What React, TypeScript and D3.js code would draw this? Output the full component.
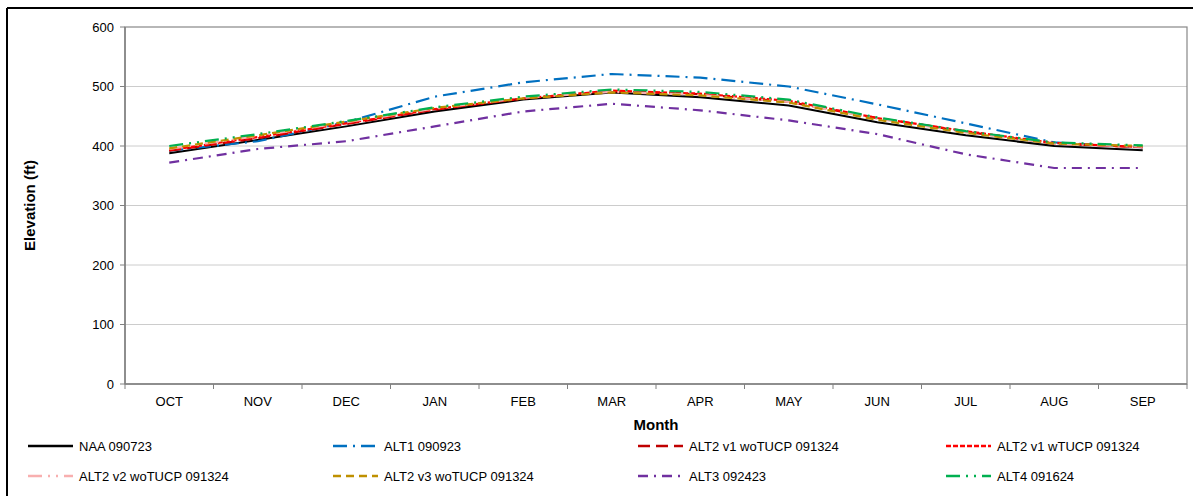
import React from 'react';
import * as d3 from 'd3';

const months = ['OCT', 'NOV', 'DEC', 'JAN', 'FEB', 'MAR', 'APR', 'MAY', 'JUN', 'JUL', 'AUG', 'SEP'];
const yTicks = [0, 100, 200, 300, 400, 500, 600];

const naa = [388, 410, 433, 458, 478, 490, 482, 468, 440, 418, 400, 393];
const alt1 = [392, 408, 440, 483, 507, 521, 515, 500, 470, 438, 406, 398];
const alt2v1wo = [392, 413, 437, 461, 480, 492, 487, 474, 447, 424, 404, 398];
const alt2v1w = [393, 415, 438, 462, 480, 493, 488, 476, 447, 425, 405, 398];
const alt2v2wo = [395, 417, 440, 463, 481, 491, 486, 474, 446, 423, 404, 399];
const alt2v3wo = [396, 418, 441, 464, 480, 490, 485, 473, 444, 422, 404, 400];
const alt3 = [372, 395, 408, 433, 458, 471, 460, 443, 420, 386, 363, 363];
const alt4 = [400, 420, 442, 465, 483, 495, 491, 478, 448, 425, 406, 401];

const series = [
  { name: 'NAA 090723', values: naa, color: '#000000', dash: '', width: 2 },
  { name: 'ALT1 090923', values: alt1, color: '#0070C0', dash: '14,6,2,6', width: 2.2 },
  { name: 'ALT2 v1 woTUCP 091324', values: alt2v1wo, color: '#C00000', dash: '12,6', width: 2.2 },
  { name: 'ALT2 v1 wTUCP 091324', values: alt2v1w, color: '#FF0000', dash: '5,2', width: 2.2 },
  { name: 'ALT2 v2 woTUCP 091324', values: alt2v2wo, color: '#F8AFAF', dash: '14,6,2,6,2,6', width: 2.2 },
  { name: 'ALT2 v3 woTUCP 091324', values: alt2v3wo, color: '#BF9000', dash: '8,5', width: 2.2 },
  { name: 'ALT3 092423', values: alt3, color: '#7030A0', dash: '10,6,2,6', width: 2.2 },
  { name: 'ALT4 091624', values: alt4, color: '#00B050', dash: '14,6,2,6,2,6', width: 2.2 },
];

const W = 1193;
const H = 496;
const plot = { left: 125, right: 1187, top: 27, bottom: 384 };
const font = '"Liberation Sans", Arial, sans-serif';

export default function App() {
  const x = d3.scaleBand().domain(months).range([plot.left, plot.right]).padding(0);
  const y = d3.scaleLinear().domain([0, 600]).range([plot.bottom, plot.top]);

  const line = d3.line<number>()
    .x((_, i) => (x(months[i]) as number) + x.bandwidth() / 2)
    .y(d => y(d));

  const boundaries = d3.range(months.length + 1).map(i => plot.left + i * x.bandwidth());
  const legendCols = [28, 333, 638, 946];
  const legendRows = [446, 476];

  return (
    <svg width={W} height={H} style={{ position: 'absolute', left: 0, top: 0 }} fontFamily={font}>
      <rect x={0} y={0} width={W} height={H} fill="#fff" />
      {/* outer frame */}
      <line x1={7} y1={8} x2={W} y2={8} stroke="#000" strokeWidth={2} />
      <line x1={7} y1={8} x2={7} y2={H} stroke="#000" strokeWidth={2} />

      {/* grid */}
      {yTicks.filter(t => t > 0 && t < 600).map(t => (
        <line key={t} x1={plot.left} x2={plot.right} y1={y(t)} y2={y(t)} stroke="#cccccc" strokeWidth={1} />
      ))}
      <rect x={plot.left} y={plot.top} width={plot.right - plot.left} height={plot.bottom - plot.top}
        fill="none" stroke="#888" strokeWidth={1.2} />

      {/* y axis */}
      <line x1={plot.left} x2={plot.left} y1={plot.top} y2={plot.bottom} stroke="#808080" strokeWidth={1.5} />
      {yTicks.map(t => (
        <g key={t}>
          <line x1={plot.left - 5} x2={plot.left} y1={y(t)} y2={y(t)} stroke="#808080" />
          <text x={plot.left - 11} y={y(t)} dy="0.35em" textAnchor="end" fontSize={13} fill="#000">{t}</text>
        </g>
      ))}

      {/* x axis */}
      <line x1={plot.left} x2={plot.right} y1={plot.bottom} y2={plot.bottom} stroke="#808080" strokeWidth={1.5} />
      {boundaries.map((b, i) => (
        <line key={i} x1={b} x2={b} y1={plot.bottom} y2={plot.bottom + 5} stroke="#808080" />
      ))}
      {months.map(m => (
        <text key={m} x={(x(m) as number) + x.bandwidth() / 2} y={406} textAnchor="middle" fontSize={13} fill="#000">{m}</text>
      ))}

      <text x={656} y={430} textAnchor="middle" fontSize={15} fontWeight="bold">Month</text>
      <text transform={`translate(35,${(plot.top + plot.bottom) / 2}) rotate(-90)`} textAnchor="middle"
        fontSize={15} fontWeight="bold">Elevation (ft)</text>

      {/* series */}
      {series.map(s => (
        <path key={s.name} d={line(s.values) || ''} fill="none" stroke={s.color}
          strokeWidth={s.width} strokeDasharray={s.dash} strokeLinejoin="round" />
      ))}

      {/* legend */}
      {series.map((s, i) => {
        const lx = legendCols[i % 4];
        const ly = legendRows[Math.floor(i / 4)];
        return (
          <g key={s.name}>
            <line x1={lx} x2={lx + 45} y1={ly} y2={ly} stroke={s.color} strokeWidth={2.5} strokeDasharray={s.dash} />
            <text x={lx + 51} y={ly} dy="0.35em" fontSize={13} fill="#000">{s.name}</text>
          </g>
        );
      })}
    </svg>
  );
}
